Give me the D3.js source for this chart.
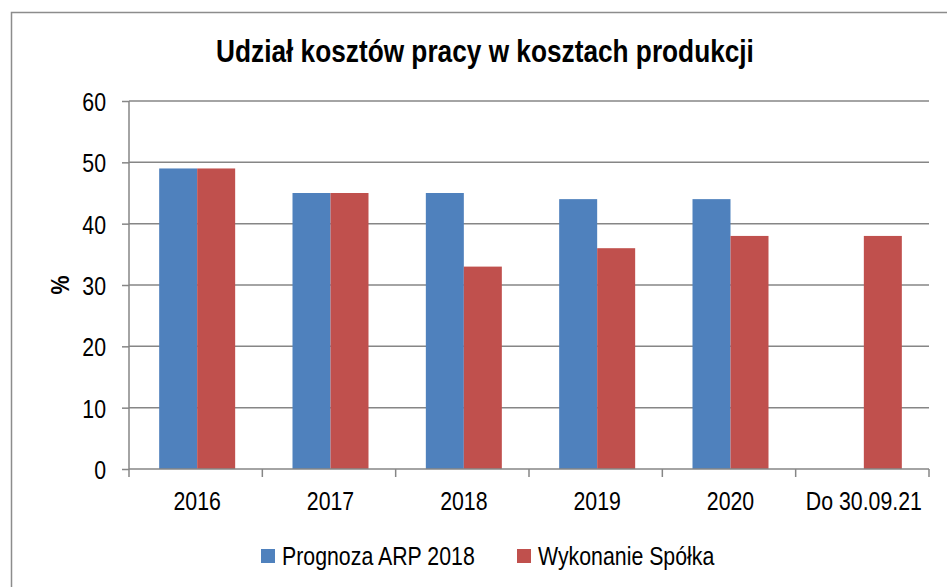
<!DOCTYPE html>
<html>
<head>
<meta charset="utf-8">
<script src="https://cdn.jsdelivr.net/npm/d3@7"></script>
<style>
  body { margin: 0; background: #fff; }
  svg { display: block; font-family: "Liberation Sans", Arial, sans-serif; }
</style>
</head>
<body>
<svg id="chart" width="947" height="587"></svg>
<script>
var categories = ["2016", "2017", "2018", "2019", "2020", "Do 30.09.21"];
var seriesNames = ["Prognoza ARP 2018", "Wykonanie Spółka"];
var prognoza = [49, 45, 45, 44, 44, null];
var wykonanie = [49, 45, 33, 36, 38, 38];
var yTicks = [0, 10, 20, 30, 40, 50, 60];
var colors = ["#4F81BD", "#C0504D"];

// no Arial Narrow here, so squeeze Liberation Sans horizontally
var NARROW = 0.82;
function narrow(sel, x, y) {
  return sel.attr("transform", "translate(" + x + "," + y + ") scale(" + NARROW + ",1)");
}

var svg = d3.select("#chart");
var margin = {top: 101, right: 18, bottom: 118, left: 129};
var width = 947 - margin.left - margin.right;
var height = 587 - margin.top - margin.bottom;

// outer frame
svg.append("rect")
    .attr("x", 11.5).attr("y", 12.5)
    .attr("width", 960).attr("height", 600)
    .attr("fill", "none")
    .attr("stroke", "#8c8c8c")
    .attr("stroke-width", 1.5);

svg.append("text")
    .call(narrow, 485, 62)
    .attr("text-anchor", "middle")
    .attr("font-weight", "bold")
    .attr("font-size", 32)
    .text("Udział kosztów pracy w kosztach produkcji");

var g = svg.append("g").attr("transform", "translate(" + margin.left + "," + margin.top + ")");

var x0 = d3.scaleBand()
    .domain(categories)
    .range([0, width])
    .paddingInner(0.43)
    .paddingOuter(0.215);

var x1 = d3.scaleBand()
    .domain(seriesNames)
    .range([0, x0.bandwidth()]);

var y = d3.scaleLinear()
    .domain([0, 60])
    .range([height, 0]);

// gridlines
g.append("g")
  .selectAll("line")
  .data(yTicks.filter(function(d) { return d > 0; }))
  .enter().append("line")
    .attr("x1", 0).attr("x2", width)
    .attr("y1", function(d) { return y(d); })
    .attr("y2", function(d) { return y(d); })
    .attr("stroke", "#868686")
    .attr("stroke-width", 1.5);

// bars
var rows = categories.map(function(c, i) {
  return {cat: c, values: [prognoza[i], wykonanie[i]]};
});

var groups = g.selectAll(".grp")
  .data(rows)
  .enter().append("g")
    .attr("class", "grp")
    .attr("transform", function(d) { return "translate(" + (x0(d.cat) + 1.5) + ",0)"; });

groups.selectAll("rect")
  .data(function(d) {
    return d.values.map(function(v, j) { return {key: seriesNames[j], value: v, j: j}; })
      .filter(function(e) { return e.value != null; });
  })
  .enter().append("rect")
    .attr("x", function(d) { return x1(d.key); })
    .attr("y", function(d) { return y(d.value); })
    .attr("width", x1.bandwidth())
    .attr("height", function(d) { return y(0) - y(d.value); })
    .attr("fill", function(d) { return colors[d.j]; });

// y axis
var yAxis = g.append("g")
    .call(d3.axisLeft(y).tickValues(yTicks).tickSize(7));
yAxis.select(".domain").attr("stroke", "#868686").attr("stroke-width", 1.5)
    .attr("d", "M0," + y(0) + "V" + y(60));
yAxis.selectAll(".tick line").attr("stroke", "#868686").attr("stroke-width", 1.5);
yAxis.selectAll(".tick text")
    .attr("x", null)
    .call(narrow, -23, 0)
    .attr("font-size", 26)
    .attr("fill", "#000")
    .attr("dy", "0.36em");

// x axis
var xAxis = g.append("g").attr("transform", "translate(0," + height + ")");
xAxis.append("line")
    .attr("x1", 0).attr("x2", width)
    .attr("stroke", "#868686").attr("stroke-width", 1.5);
var step = x0.step();
xAxis.selectAll(".xtick")
  .data(d3.range(categories.length + 1))
  .enter().append("line")
    .attr("x1", function(i) { return i * step; })
    .attr("x2", function(i) { return i * step; })
    .attr("y1", 0).attr("y2", 8)
    .attr("stroke", "#868686").attr("stroke-width", 1.5);
xAxis.selectAll(".xlab")
  .data(categories)
  .enter().append("text")
    .each(function(d) {
      narrow(d3.select(this), x0(d) + x0.bandwidth() / 2 + 1.5, 41);
    })
    .attr("text-anchor", "middle")
    .attr("font-size", 26)
    .text(function(d) { return d; });

// y label
svg.append("text")
    .attr("transform", "translate(69,285) rotate(-90) scale(" + NARROW + ",1)")
    .attr("text-anchor", "middle")
    .attr("font-weight", "bold")
    .attr("font-size", 26)
    .text("%");

// legend
var legendX = [261, 517];
var legend = svg.selectAll(".legend")
  .data(seriesNames)
  .enter().append("g")
    .attr("class", "legend")
    .attr("transform", function(d, i) { return "translate(" + legendX[i] + ",549)"; });
legend.append("rect")
    .attr("width", 14).attr("height", 14)
    .attr("fill", function(d, i) { return colors[i]; });
legend.append("text")
    .call(narrow, 21, 16)
    .attr("font-size", 26)
    .text(function(d) { return d; });
</script>
</body>
</html>
